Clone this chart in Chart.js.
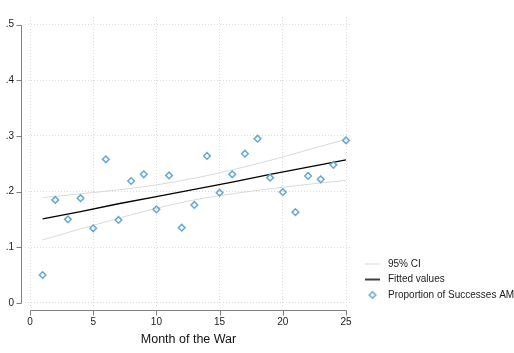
<!DOCTYPE html>
<html>
<head>
<meta charset="utf-8">
<title>Proportion of Successes AM by Month of the War</title>
<script src="https://cdn.jsdelivr.net/npm/chart.js@4"></script>
<style>
  html, body { margin: 0; padding: 0; background: #ffffff; }
  #wrap { width: 514px; height: 353px; }
</style>
</head>
<body>
<div id="wrap"><canvas id="chart"></canvas></div>
<script>
// Monthly observations
const months = [1, 2, 3, 4, 5, 6, 7, 8, 9, 10, 11, 12, 13, 14, 15, 16, 17, 18, 19, 20, 21, 22, 23, 24, 25];
const successShare = [0.050, 0.185, 0.150, 0.188, 0.134, 0.258, 0.149, 0.219, 0.231, 0.168, 0.229, 0.135, 0.176,
                      0.264, 0.198, 0.231, 0.268, 0.295, 0.225, 0.199, 0.163, 0.228, 0.222, 0.248, 0.292];

// Linear fit and its 95% confidence band
const fitMonths = [1, 4, 7, 10, 13, 16, 19, 22, 25];
const fittedValues = [0.151, 0.164, 0.178, 0.191, 0.204, 0.217, 0.231, 0.244, 0.257];
const ciUpper = [0.189, 0.196, 0.203, 0.212, 0.224, 0.239, 0.256, 0.275, 0.294];
const ciLower = [0.113, 0.133, 0.152, 0.170, 0.185, 0.196, 0.205, 0.213, 0.220];

// Axis ticks
const xTicks = [0, 5, 10, 15, 20, 25];
const yTicks = [0, 0.1, 0.2, 0.3, 0.4, 0.5];
const yTickLabels = ['0', '.1', '.2', '.3', '.4', '.5'];

// Legend entries
const legendLabels = ['95% CI', 'Fitted values', 'Proportion of Successes AM'];

const FONT = 'Liberation Sans, Arial, Helvetica, sans-serif';
const CI_COLOR = '#d9d9d9';
const FIT_COLOR = '#000000';
const POINT_COLOR = '#62a8dc';
const GRID_COLOR = '#dadada';
const AXIS_COLOR = '#808080';

const pairs = (xs, ys) => xs.map((x, i) => ({ x: x, y: ys[i] }));

// Small marker images for the legend
function lineMarker(color, width) {
  const c = document.createElement('canvas');
  c.width = 15; c.height = 4;
  const g = c.getContext('2d');
  g.strokeStyle = color; g.lineWidth = width;
  g.beginPath(); g.moveTo(0, 2); g.lineTo(15, 2); g.stroke();
  return c;
}
function diamondMarker(color) {
  const c = document.createElement('canvas');
  c.width = 10; c.height = 10;
  const g = c.getContext('2d');
  g.strokeStyle = color; g.lineWidth = 1.5;
  g.beginPath();
  g.moveTo(5, 1.8); g.lineTo(8.2, 5); g.lineTo(5, 8.2); g.lineTo(1.8, 5); g.closePath();
  g.stroke();
  return c;
}
const legendMarkers = [lineMarker(CI_COLOR, 1), lineMarker(FIT_COLOR, 1.5), diamondMarker(POINT_COLOR)];
const legendDatasets = [0, 2, 3];

// Stata-style axes drawn apart from the plot region
const offsetAxes = {
  id: 'offsetAxes',
  afterDraw(chart) {
    const { ctx, chartArea } = chart;
    const xs = chart.scales.x, ys = chart.scales.y;
    const ax = Math.round(chartArea.left - 4.5) + 0.5;
    const ay = Math.round(chartArea.bottom + 4.5) + 0.5;
    ctx.save();
    ctx.strokeStyle = AXIS_COLOR;
    ctx.lineWidth = 1;
    ctx.beginPath();
    const yTop = Math.round(ys.getPixelForValue(yTicks[yTicks.length - 1])) + 0.5;
    const yBot = Math.round(ys.getPixelForValue(yTicks[0])) + 0.5;
    ctx.moveTo(ax, yTop); ctx.lineTo(ax, yBot);
    yTicks.forEach(v => {
      const py = Math.round(ys.getPixelForValue(v)) + 0.5;
      ctx.moveTo(ax, py); ctx.lineTo(ax - 5, py);
    });
    const xL = Math.round(xs.getPixelForValue(xTicks[0])) + 0.5;
    const xR = Math.round(xs.getPixelForValue(xTicks[xTicks.length - 1])) + 0.5;
    ctx.moveTo(xL, ay); ctx.lineTo(xR, ay);
    xTicks.forEach(v => {
      const px = Math.round(xs.getPixelForValue(v)) + 0.5;
      ctx.moveTo(px, ay); ctx.lineTo(px, ay + 5);
    });
    ctx.stroke();
    ctx.restore();
  }
};

new Chart(document.getElementById('chart'), {
  type: 'scatter',
  data: {
    datasets: [
      {
        type: 'line', label: legendLabels[0], data: pairs(fitMonths, ciUpper),
        borderColor: CI_COLOR, borderWidth: 1, pointRadius: 0, fill: false,
        cubicInterpolationMode: 'monotone', order: 3
      },
      {
        type: 'line', label: legendLabels[0], data: pairs(fitMonths, ciLower),
        borderColor: CI_COLOR, borderWidth: 1, pointRadius: 0, fill: false,
        cubicInterpolationMode: 'monotone', order: 3
      },
      {
        type: 'line', label: legendLabels[1], data: pairs(fitMonths, fittedValues),
        borderColor: FIT_COLOR, borderWidth: 1.4, pointRadius: 0, fill: false, order: 2
      },
      {
        label: legendLabels[2], data: pairs(months, successShare),
        pointStyle: 'rectRot', pointRadius: 3.3, pointBorderWidth: 1.5,
        borderColor: POINT_COLOR, backgroundColor: 'rgba(0,0,0,0)', order: 1
      }
    ]
  },
  options: {
    responsive: true,
    maintainAspectRatio: false,
    animation: false,
    devicePixelRatio: 1,
    layout: { padding: { top: 5, left: 0, right: 0, bottom: 0 } },
    plugins: {
      tooltip: { enabled: false },
      legend: {
        position: 'right',
        align: 'end',
        fullSize: false,
        maxWidth: 157.5,
        labels: {
          usePointStyle: true,
          pointStyleWidth: 21,
          padding: 5.5,
          color: '#1a1a1a',
          font: { family: FONT, size: 10 },
          generateLabels: () => legendLabels.map((text, i) => ({
            text: text,
            pointStyle: legendMarkers[i],
            fillStyle: 'rgba(0,0,0,0)',
            strokeStyle: 'rgba(0,0,0,0)',
            lineWidth: 0,
            hidden: false,
            datasetIndex: legendDatasets[i],
            fontColor: '#1a1a1a'
          }))
        }
      }
    },
    scales: {
      x: {
        type: 'linear',
        position: 'bottom',
        min: -0.396,
        max: 25.474,
        afterBuildTicks: s => { s.ticks = xTicks.map(v => ({ value: v })); },
        afterFit: s => { s.height = 47.5; },
        ticks: {
          padding: 10.5,
          color: '#1a1a1a',
          font: { family: FONT, size: 10 },
          maxRotation: 0,
          callback: v => String(v)
        },
        grid: { color: GRID_COLOR, lineWidth: 1, drawTicks: false },
        border: { display: false, dash: [1, 2] },
        title: {
          display: true,
          text: 'Month of the War',
          color: '#111111',
          font: { family: FONT, size: 12.5 },
          padding: { top: 0, bottom: 5.5 }
        }
      },
      y: {
        type: 'linear',
        position: 'left',
        min: -0.00483,
        max: 0.5138,
        afterBuildTicks: s => { s.ticks = yTicks.map(v => ({ value: v })); },
        afterFit: s => { s.width = 25; },
        ticks: {
          padding: 11,
          color: '#1a1a1a',
          font: { family: FONT, size: 10 },
          callback: (v, i) => yTickLabels[i]
        },
        grid: { color: GRID_COLOR, lineWidth: 1, drawTicks: false },
        border: { display: false, dash: [1, 2] }
      },
      gap: {
        type: 'linear',
        axis: 'y',
        position: 'right',
        afterBuildTicks: s => { s.ticks = []; },
        afterFit: s => { s.width = 4.5; },
        ticks: { display: false },
        grid: { display: false, drawTicks: false },
        border: { display: false }
      }
    }
  },
  plugins: [offsetAxes]
});
</script>
</body>
</html>
